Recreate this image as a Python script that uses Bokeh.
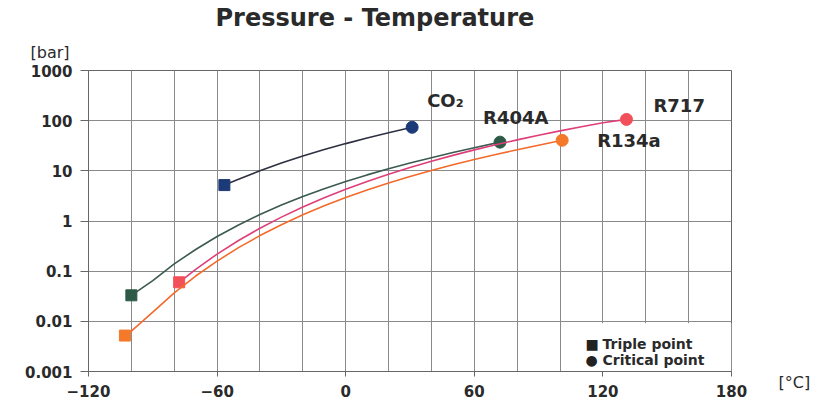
from bokeh.plotting import figure
from bokeh.models import Range1d, FixedTicker, Label, BoxAnnotation, Title, LogAxis
from bokeh.embed import file_html
from bokeh.resources import INLINE

# ---- data ----
x_ticks = [-120, -60, 0, 60, 120, 180]
x_minor = [-100, -80, -40, -20, 20, 40, 80, 100, 140, 160]
y_ticks = [0.001, 0.01, 0.1, 1, 10, 100, 1000]
y_tick_labels = ["0.001", "0.01", "0.1", "1", "10", "100", "1000"]

co2_t = [-56.6, -50, -40, -30, -20, -10, 0, 10, 20, 31]
co2_p = [5.2, 6.8, 10.0, 14.3, 19.7, 26.5, 34.9, 45.0, 57.3, 73.8]

r404a_t = [-100, -90, -80, -70, -60, -50, -40, -30, -20, -10, 0, 10, 20, 30, 40, 50, 60, 72]
r404a_p = [0.033, 0.065, 0.14, 0.27, 0.49, 0.83, 1.35, 2.08, 3.08, 4.4, 6.1, 8.3, 11.0, 14.3, 18.3, 23.1, 28.8, 37.3]

r717_t = [-77.7, -70, -60, -50, -40, -30, -20, -10, 0, 10, 20, 30, 40, 50, 60, 70, 80, 90, 100, 110, 120, 131]
r717_p = [0.06, 0.109, 0.219, 0.408, 0.717, 1.195, 1.90, 2.91, 4.29, 6.15, 8.57, 11.67, 15.54, 20.33, 26.15,
          33.1, 41.4, 51.1, 62.5, 75.6, 90.7, 106]

r134a_t = [-103, -100, -90, -80, -70, -60, -50, -40, -30, -20, -10, 0, 10, 20, 30, 40, 50, 60, 70, 80, 90, 101]
r134a_p = [0.0052, 0.0064, 0.0152, 0.0368, 0.080, 0.159, 0.294, 0.512, 0.844, 1.327, 2.006, 2.928, 4.146,
           5.717, 7.70, 10.17, 13.18, 16.82, 21.17, 26.33, 32.44, 40.6]

series = [
    # name, T, P, line colour, marker colour, label offsets
    ("CO\u2082", co2_t, co2_p, "#2d3040", "#1d3a78", 15, 27),
    ("R404A", r404a_t, r404a_p, "#3b5a50", "#2d5a47", -17, 25),
    ("R717", r717_t, r717_p, "#de3f78", "#f25058", 27, 14),
    ("R134a", r134a_t, r134a_p, "#f26a2c", "#f47a2a", 35, 0),
]

FONT = "DejaVu Sans"
GRID = "#8a8a8a"
TXT = "#2a2a2a"

p = figure(width=816, height=404, x_range=Range1d(-120, 180), y_range=Range1d(0.001, 1000),
           y_axis_type="log", output_backend="svg", toolbar_location=None, title=None,
           min_border_left=88, min_border_right=85, min_border_top=70, min_border_bottom=33)
p.background_fill_color = "white"
p.border_fill_color = "white"
p.outline_line_color = "#666666"
p.outline_line_width = 1

p.xaxis.ticker = FixedTicker(ticks=x_ticks, minor_ticks=x_minor)
p.yaxis.ticker = FixedTicker(ticks=y_ticks, minor_ticks=[])
p.yaxis.major_label_overrides = {t: s for t, s in zip(y_ticks, y_tick_labels)}

for ax, out, stand in ((p.xaxis, 5, 8), (p.yaxis, 8, 8)):
    ax.axis_line_color = "#666666"
    ax.major_tick_line_color = "#666666"
    ax.major_tick_out = out
    ax.major_tick_in = 0
    ax.minor_tick_out = 0
    ax.minor_tick_in = 0
    ax.major_label_standoff = stand
    ax.major_label_text_font = FONT
    ax.major_label_text_font_style = "bold"
    ax.major_label_text_font_size = "15px"
    ax.major_label_text_color = TXT

p.xgrid.grid_line_color = GRID
p.xgrid.minor_grid_line_color = GRID
p.ygrid.grid_line_color = GRID
p.ygrid.minor_grid_line_color = None

for name, t, pr, lc, mc, dx, dy in series:
    p.line(t, pr, line_color=lc, line_width=1.6)
    p.scatter([t[0]], [pr[0]], marker="square", size=11, fill_color=mc, line_color=mc)
    p.scatter([t[-1]], [pr[-1]], marker="circle", size=12, fill_color=mc, line_color=mc)
    p.add_layout(Label(x=t[-1], y=pr[-1], x_offset=dx, y_offset=dy, text=name,
                       text_baseline="middle", text_font=FONT, text_font_style="bold",
                       text_font_size="18px", text_color=TXT))

# legend area (white box in the lower right corner of the frame)
p.add_layout(BoxAnnotation(left=101, right=180, bottom=0.001, top=0.0092, fill_color="white",
                           fill_alpha=1, line_alpha=0, level="underlay"))
p.add_layout(Label(x=180, y=0.001, x_offset=-146, y_offset=28, text="\u25a0", text_baseline="middle",
                   text_font=FONT, text_font_size="14px", text_color="#222222"))
p.add_layout(Label(x=180, y=0.001, x_offset=-146, y_offset=12, text="\u25cf", text_baseline="middle",
                   text_font=FONT, text_font_size="14px", text_color="#222222"))
p.add_layout(Label(x=180, y=0.001, x_offset=-129, y_offset=28, text="Triple point", text_baseline="middle",
                   text_font=FONT, text_font_style="bold", text_font_size="14px", text_color=TXT))
p.add_layout(Label(x=180, y=0.001, x_offset=-129, y_offset=12, text="Critical point", text_baseline="middle",
                   text_font=FONT, text_font_style="bold", text_font_size="14px", text_color=TXT))

# unit label of the y axis and the chart title, stacked above the frame
p.add_layout(Title(text="[bar]", align="left", offset=-58, standoff=18, text_font=FONT,
                   text_font_style="normal", text_font_size="16px", text_color=TXT), "above")
p.add_layout(Title(text="Pressure - Temperature", align="left", offset=127, standoff=0, text_font=FONT,
                   text_font_style="bold", text_font_size="24px", text_color=TXT), "above")

# unit label of the x axis: a label-only axis on the right, one tick at the frame bottom
p.extra_y_ranges = {"unit": Range1d(1, 10)}
unit_axis = LogAxis(y_range_name="unit", ticker=FixedTicker(ticks=[1], minor_ticks=[]),
                    major_label_overrides={1: "\n[\u00b0C]"}, axis_line_color=None,
                    major_tick_line_color=None, major_tick_out=0, major_tick_in=0,
                    minor_tick_line_color=None, minor_tick_out=0, major_label_standoff=47,
                    major_label_text_font=FONT, major_label_text_font_size="16px",
                    major_label_text_color=TXT)
p.add_layout(unit_axis, "right")

open("out.html", "w").write(file_html(p, INLINE))
